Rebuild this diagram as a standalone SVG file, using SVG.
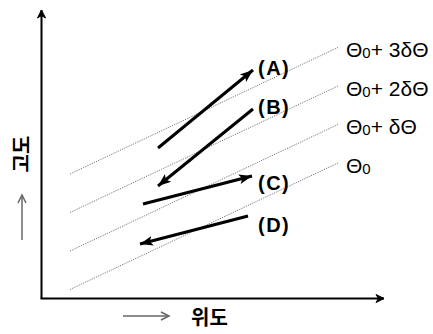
<svg xmlns="http://www.w3.org/2000/svg" width="433" height="334" viewBox="0 0 433 334">
<style>
.axis{stroke:#000;stroke-width:2;fill:none}
.dot{stroke:#666;stroke-width:0.9;stroke-dasharray:1.2 1.2;fill:none}
.flow{stroke:#000;stroke-width:3;fill:none}
.hint{stroke:#666;stroke-width:1.5;fill:none}
.lab{font-family:"Liberation Sans",Arial,sans-serif;font-size:21px;fill:#000}
.sub{font-size:15px}
.tag{font-family:"Liberation Sans",Arial,sans-serif;font-size:20px;font-weight:bold;letter-spacing:1.5px;fill:#000}
.kr{font-family:"Noto Sans CJK KR","Noto Sans",sans-serif;font-size:20px;font-weight:bold;fill:#000}
</style>
<defs>
<marker id="ax" markerUnits="userSpaceOnUse" markerWidth="12" markerHeight="12" refX="9" refY="5" orient="auto">
<path d="M1,1 L9,5 L1,9 L3.5,5 z" fill="#000" stroke="#000" stroke-width="1"/>
</marker>
<marker id="hd" markerUnits="userSpaceOnUse" markerWidth="16" markerHeight="14" refX="13" refY="6" orient="auto">
<path d="M0,1 L13,6 L0,11 L3,6 z" fill="#000"/>
</marker>
<marker id="gh" markerUnits="userSpaceOnUse" markerWidth="12" markerHeight="12" refX="9" refY="5" orient="auto">
<path d="M1,1 L9,5 L1,9" fill="none" stroke="#666" stroke-width="1.5"/>
</marker>
</defs>
<g id="axes">
<line class="axis" x1="41.5" y1="298.5" x2="41.5" y2="10" marker-end="url(#ax)"/>
<line class="axis" x1="40.5" y1="298.5" x2="384" y2="298.5" marker-end="url(#ax)"/>
</g>
<g id="isentropes">
<line class="dot" x1="70" y1="174" x2="339" y2="47"/>
<line class="dot" x1="70" y1="212.5" x2="339" y2="85.5"/>
<line class="dot" x1="70" y1="251" x2="339" y2="124"/>
<line class="dot" x1="70" y1="289.5" x2="339" y2="162.5"/>
</g>
<g id="labels-theta">
<text class="lab" x="346" y="57">Θ<tspan class="sub" dy="1">0</tspan><tspan dy="-1">+ 3δΘ</tspan></text>
<text class="lab" x="346" y="95.5">Θ<tspan class="sub" dy="1">0</tspan><tspan dy="-1">+ 2δΘ</tspan></text>
<text class="lab" x="346" y="134">Θ<tspan class="sub" dy="1">0</tspan><tspan dy="-1">+ δΘ</tspan></text>
<text class="lab" x="346" y="172.5">Θ<tspan class="sub" dy="1">0</tspan></text>
</g>
<g id="connectors">
<line id="arrowA" class="flow" x1="158" y1="148" x2="253" y2="70" marker-end="url(#hd)"/>
<line id="arrowB" class="flow" x1="253" y1="109" x2="158" y2="186" marker-end="url(#hd)"/>
<line id="arrowC" class="flow" x1="143" y1="204" x2="252" y2="176" marker-end="url(#hd)"/>
<line id="arrowD" class="flow" x1="248" y1="216" x2="140" y2="244" marker-end="url(#hd)"/>
</g>
<g id="tagA"><text class="tag" x="258" y="75">(A)</text></g>
<g id="tagB"><text class="tag" x="258" y="114">(B)</text></g>
<g id="tagC"><text class="tag" x="258" y="190">(C)</text></g>
<g id="tagD"><text class="tag" x="258" y="232">(D)</text></g>
<g id="ylabel">
<text class="kr" transform="translate(29,154) rotate(-90)" text-anchor="middle">고도</text>
<line class="hint" x1="22" y1="240" x2="22" y2="195" marker-end="url(#gh)"/>
</g>
<g id="xlabel">
<line class="hint" x1="123" y1="316" x2="169" y2="316" marker-end="url(#gh)"/>
<text class="kr" x="191" y="325">위도</text>
</g>
</svg>
